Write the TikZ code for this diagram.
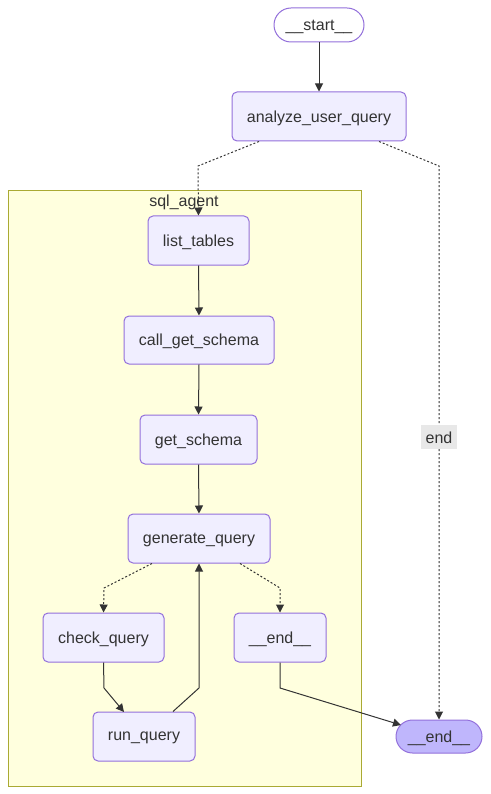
\documentclass[tikz,border=0pt]{standalone}
\usepackage{fontspec}
\setmainfont{Liberation Sans}
\usetikzlibrary{arrows.meta,shapes.misc}
\definecolor{nodefill}{HTML}{F0EEFF}
\definecolor{nodeline}{HTML}{9370DB}
\definecolor{clfill}{HTML}{FFFFDE}
\definecolor{clline}{HTML}{AAAA33}
\definecolor{edge}{HTML}{333333}
\definecolor{endfill}{HTML}{BFB6FC}
\definecolor{lblfill}{HTML}{E8E8E8}
\tikzset{
  box/.style={draw=nodeline, fill=nodefill, line width=1pt, rounded corners=5pt, text=edge, font=\fontsize{16}{19}\selectfont, inner sep=0pt, text depth=-1pt},
  term/.style={draw=nodeline, line width=1pt, rounded rectangle, text=edge, font=\fontsize{16}{19}\selectfont, inner sep=0pt, text depth=-1pt},
  conn/.style={draw=edge, line width=1pt, -{Triangle[length=8pt,width=8pt]}},
  dotconn/.style={conn, dash pattern=on 2pt off 2pt},
}
\begin{document}
\begin{tikzpicture}[x=1pt,y=-1pt]
\path[use as bounding box] (0,0) rectangle (490,794);
% cluster
\draw[fill=clfill, draw=clline, line width=1pt] (8,191) rectangle (361,786);
\node[text=edge, font=\fontsize{16}{19}\selectfont] (clabel) at (184,202) {sql\_agent};
% nodes
\node[term, fill=white, minimum width=90pt, minimum height=34pt] (start) at (319,25) {\_\_start\_\_};
\node[box, minimum width=174pt, minimum height=49pt] (analyze) at (319,116.5) {analyze\_user\_query};
\node[box, minimum width=101pt, minimum height=49pt] (list) at (198.5,240.5) {list\_tables};
\node[box, minimum width=150pt, minimum height=48pt] (call) at (199,340) {call\_get\_schema};
\node[box, minimum width=117pt, minimum height=49pt] (get) at (198.5,439.5) {get\_schema};
\node[box, minimum width=142pt, minimum height=49pt] (gen) at (199,538.5) {generate\_query};
\node[box, minimum width=121pt, minimum height=49pt] (check) at (103.5,637.5) {check\_query};
\node[box, minimum width=92pt, minimum height=49pt] (iend) at (280,637.5) {\_\_end\_\_};
\node[box, minimum width=102pt, minimum height=49pt] (run) at (144,736.5) {run\_query};
\node[term, fill=endfill, minimum width=86pt, minimum height=33pt] (fend) at (439,736.5) {\_\_end\_\_};
% coordinates
\coordinate (a1) at (198,166);
\coordinate (a2) at (439,166);
\coordinate (g1) at (104,588);
\coordinate (g2) at (280,588);
\coordinate (c1) at (104,688);
\coordinate (r1) at (199,688);
\coordinate (e1) at (280,688);
% edges
\draw[conn] (start.south) -- (analyze.north);
\draw[dotconn] (analyze.south) ++(-60,0) -- (a1) -- (list.north);
\draw[dotconn] (analyze.south) ++(60,0) -- (a2) -- node[pos=0.49, fill=lblfill, text=edge, font=\fontsize{16}{19}\selectfont, inner sep=0pt, minimum width=36pt, minimum height=24pt, text depth=-1pt] (endlbl) {end} (fend.north);
\draw[conn] (list.south) -- (call.north);
\draw[conn] (call.south) -- (get.north);
\draw[conn] (get.south) -- (gen.north);
\draw[dotconn] (gen.south) ++(-47,0) -- (g1) -- (check.north);
\draw[dotconn] (gen.south) ++(41,0) -- (g2) -- (iend.north);
\draw[conn] (check.south) -- (c1) -- (124,712) coordinate (rtop);
\draw[conn] (run.north) ++(29,0) -- (r1) -- (gen.south);
\draw[conn] (iend.south) -- (e1) -- (401,725);
\end{tikzpicture}
\end{document}
